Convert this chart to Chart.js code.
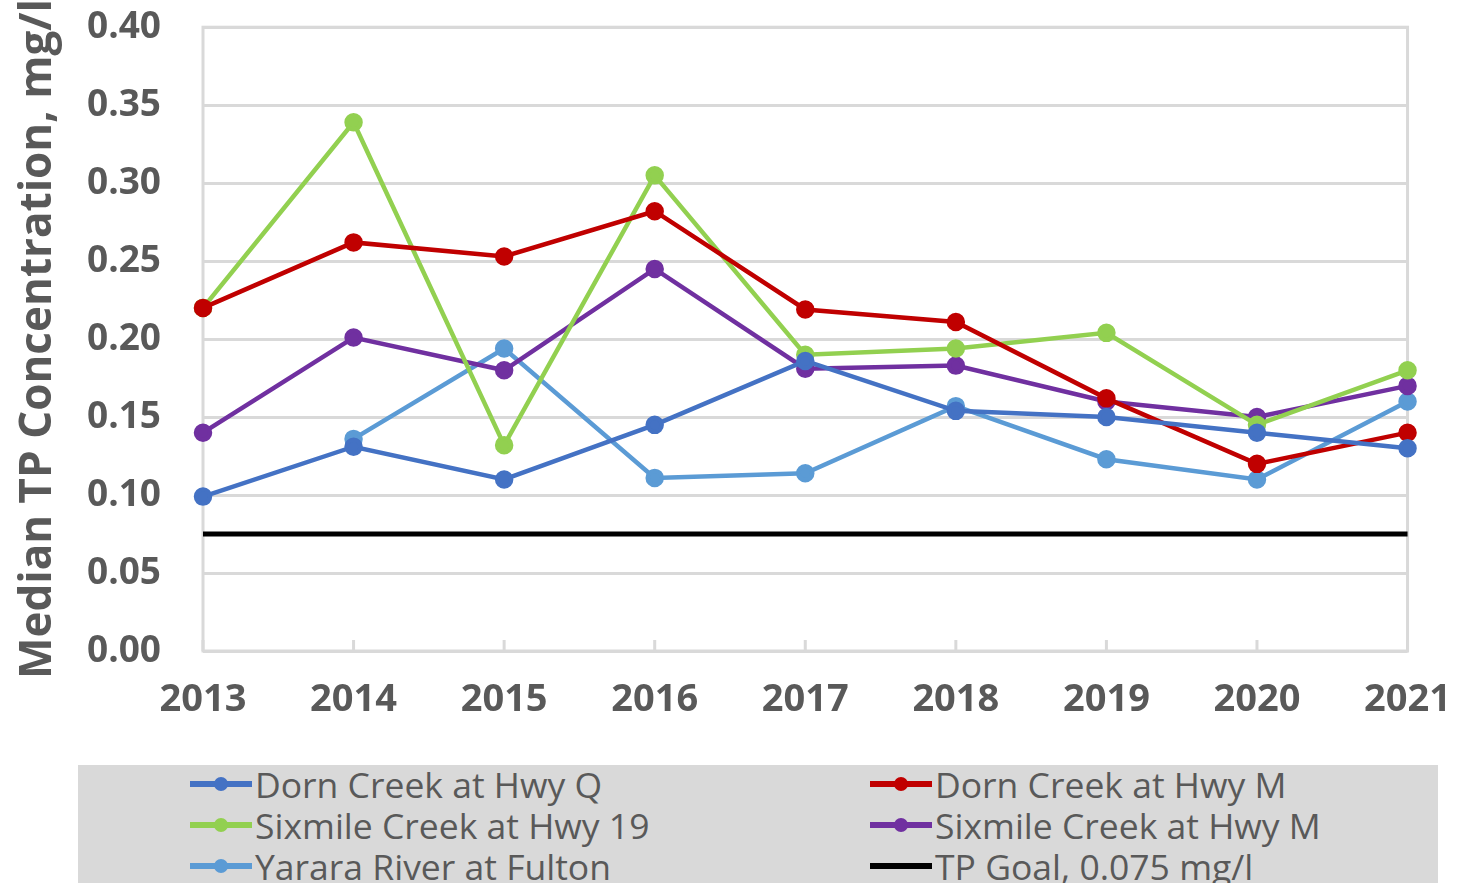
<!DOCTYPE html>
<html lang="en">
<head>
    <meta charset="UTF-8">
    <title>Median TP Concentration</title>
    <script src="https://cdn.jsdelivr.net/npm/chart.js"></script>
    <style>
        body { margin: 0; background: #fff; font-family: "Open Sans", sans-serif; overflow: hidden; }
        .wrap { position: absolute; left: 0; top: -37px; width: 1469px; height: 797px; }
        #legend { position: absolute; left: 78px; top: 765px; width: 1360px; height: 130px; background: #d9d9d9;
                  display: grid; grid-template-columns: 680px 680px; grid-auto-rows: 41px; box-sizing: border-box; }
        .item { position: relative; top: -2px; display: flex; align-items: center; color: #595959; font-size: 35.5px;
                white-space: nowrap; height: 41px; padding-left: 112px; }
        .swatch { position: relative; width: 62px; height: 6px; margin-right: 3px; flex: none; }
        .swatch i { position: absolute; left: 24px; top: -4px; width: 14px; height: 14px; border-radius: 50%; }
    </style>
</head>
<body>
    <div class="wrap"><canvas id="tpChart"></canvas></div>
    <div id="legend"></div>

    <script>
        const years = ["2013", "2014", "2015", "2016", "2017", "2018", "2019", "2020", "2021"];
        const dornQ = [0.099, 0.131, 0.110, 0.145, 0.186, 0.154, 0.150, 0.140, 0.130];
        const dornM = [0.220, 0.262, 0.253, 0.282, 0.219, 0.211, 0.162, 0.120, 0.140];
        const sixmile19 = [0.220, 0.339, 0.132, 0.305, 0.190, 0.194, 0.204, 0.145, 0.180];
        const sixmileM = [0.140, 0.201, 0.180, 0.245, 0.181, 0.183, 0.160, 0.150, 0.170];
        const yarara = [null, 0.136, 0.194, 0.111, 0.114, 0.157, 0.123, 0.110, 0.160];
        const tpGoal = 0.075;
        const yTicks = [0, 0.05, 0.10, 0.15, 0.20, 0.25, 0.30, 0.35, 0.40];

        const gray = "#595959";
        const gridColor = "#d9d9d9";

        function line(label, data, color) {
            return {
                label: label, data: data, borderColor: color, backgroundColor: color,
                borderWidth: 4.5, pointRadius: 7, pointHoverRadius: 7, tension: 0
            };
        }

        const datasets = [
            line("Dorn Creek at Hwy Q", dornQ, "#4472C4"),
            line("Dorn Creek at Hwy M", dornM, "#C00000"),
            line("Sixmile Creek at Hwy 19", sixmile19, "#92D050"),
            line("Sixmile Creek at Hwy M", sixmileM, "#7030A0"),
            line("Yarara River at Fulton", yarara, "#5B9BD5"),
            {
                label: "TP Goal, 0.075 mg/l", data: years.map(() => tpGoal),
                borderColor: "#000", backgroundColor: "#000", borderWidth: 5, pointRadius: 0
            }
        ];

        // plot frame and the small inward ticks on the x axis
        const frame = {
            id: "frame",
            beforeDatasetsDraw(chart) {
                const { ctx, chartArea: a, scales } = chart;
                ctx.save();
                ctx.strokeStyle = gridColor;
                ctx.lineWidth = 3;
                ctx.strokeRect(a.left, a.top, a.right - a.left, a.bottom - a.top);
                ctx.beginPath();
                years.forEach((y, i) => {
                    const x = scales.x.getPixelForValue(i);
                    ctx.moveTo(x, a.bottom);
                    ctx.lineTo(x, a.bottom - 11);
                });
                ctx.stroke();
                ctx.restore();
            }
        };

        const chart = new Chart(document.getElementById("tpChart"), {
            type: "line",
            data: { labels: years, datasets: datasets },
            options: {
                responsive: true,
                maintainAspectRatio: false,
                animation: false,
                layout: { padding: { top: 0, right: 43, left: 0, bottom: 0 } },
                plugins: { legend: { display: false }, tooltip: { enabled: false } },
                scales: {
                    x: {
                        grid: { display: false },
                        border: { display: false },
                        ticks: { color: gray, font: { family: "Open Sans", size: 38, weight: "bold" }, padding: 18, maxRotation: 0 },
                        afterFit: s => { s.height = 109; }
                    },
                    y: {
                        min: 0, max: 0.4,
                        afterBuildTicks: s => { s.ticks = yTicks.map(v => ({ value: v })); },
                        grid: { color: gridColor, lineWidth: 3, drawTicks: false },
                        border: { display: false },
                        ticks: {
                            color: gray, padding: 42,
                            font: { family: "Open Sans", size: 37, weight: "bold" },
                            callback: v => v.toFixed(2)
                        },
                        title: {
                            display: true, text: "Median TP Concentration, mg/l", color: gray,
                            font: { family: "Open Sans", size: 44, weight: "bold" }, padding: { top: 12, bottom: 0 }
                        },
                        afterFit: s => { s.width = 203; }
                    }
                }
            },
            plugins: [frame]
        });

        // legend in two columns, built from the chart's datasets
        const legend = document.getElementById("legend");
        chart.data.datasets.forEach(ds => {
            const item = document.createElement("div");
            item.className = "item";
            const sw = document.createElement("span");
            sw.className = "swatch";
            sw.style.background = ds.borderColor;
            if (ds.pointRadius > 0) {
                const dot = document.createElement("i");
                dot.style.background = ds.borderColor;
                sw.appendChild(dot);
            }
            item.appendChild(sw);
            item.appendChild(document.createTextNode(ds.label));
            legend.appendChild(item);
        });
    </script>
</body>
</html>
